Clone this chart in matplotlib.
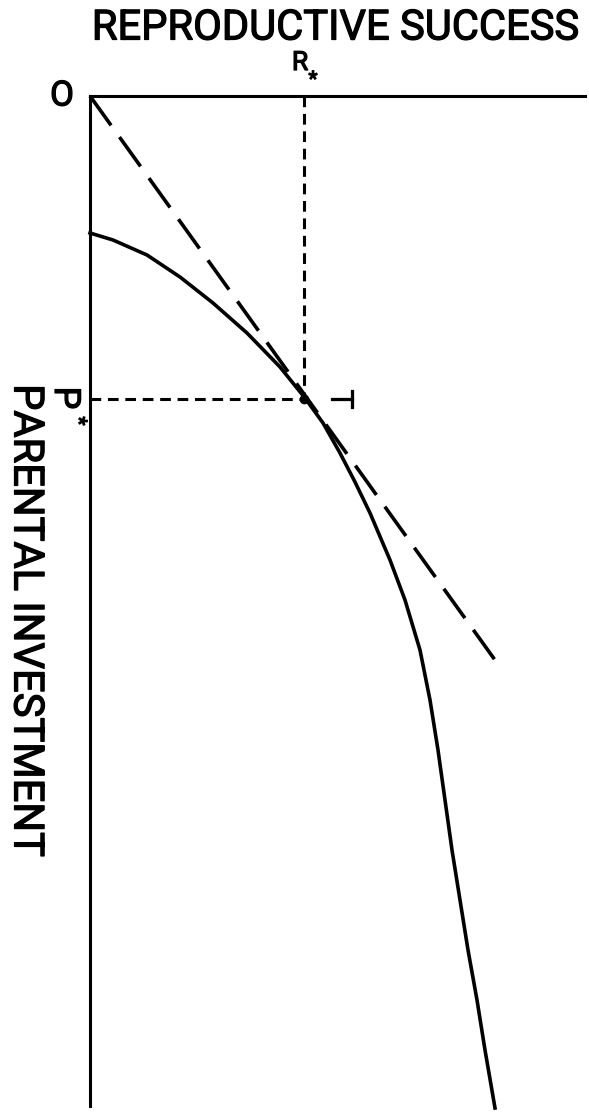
import matplotlib
matplotlib.use("Agg")
import matplotlib.pyplot as plt
import matplotlib.patheffects as pe

plt.rcParams["font.family"] = ["Roboto", "DejaVu Sans"]

# reproductive success (horizontal) vs parental investment (vertical, downward)
R_curve = [0, 0.46, 1.14, 1.8, 2.46, 3.14, 3.8, 4.3, 4.66, 5.0, 5.3, 5.6, 6.0, 6.3, 6.6,
           6.8, 6.96, 7.1, 7.24, 7.4, 7.56, 7.74, 7.9, 8.1]
P_curve = [2.74, 2.88, 3.18, 3.62, 4.14, 4.74, 5.42, 6.04, 6.54, 7.14, 7.72, 8.34, 9.28, 10.08, 11.08,
           12.08, 13.08, 14.08, 15.08, 16.08, 17.08, 18.08, 19.08, 20.24]
R_tan = [0, 8.2]
P_tan = [0, 11.42]
R_star = 4.28
P_star = 6.06

W, H = 589, 1115
fig = plt.figure(figsize=(W / 100, H / 100), dpi=100)
ax = fig.add_axes([90 / W, 1 - 1106 / H, 495 / W, 1010 / H])
ax.set_xlim(0, 9.9)
ax.set_ylim(20.2, 0)
for s in ["right", "bottom"]:
    ax.spines[s].set_visible(False)
for s in ["top", "left"]:
    ax.spines[s].set_linewidth(2.2)
ax.set_xticks([])
ax.set_yticks([])

ax.plot(R_curve, P_curve, color="black", lw=2.6, clip_on=False, solid_joinstyle="round")
ax.plot(R_tan, P_tan, color="black", lw=2.6, dashes=(10, 4), clip_on=False)
ax.plot([R_star, R_star], [0, P_star], color="black", lw=2.2, dashes=(3.5, 2.2))
ax.plot([0, R_star], [P_star, P_star], color="black", lw=2.2, dashes=(3.5, 2.2))
ax.plot([R_star], [P_star], "o", color="black", ms=6)

def px(x, y):
    return x / W, 1 - y / H

thick = [pe.withStroke(linewidth=0.9, foreground="black")]
kw = dict(ha="center", va="center", path_effects=thick)
fig.text(*px(335, 28), "REPRODUCTIVE SUCCESS", fontsize=30, **kw)
fig.text(*px(300, 63), "R", fontsize=19, **kw)
fig.text(*px(313, 80), "*", fontsize=15, **kw)
fig.text(*px(62, 96), "O", fontsize=25, **kw)
fig.text(*px(65, 398), "P", fontsize=26, rotation=-90, **kw)
fig.text(*px(78, 421), "*", fontsize=15, rotation=-90, **kw)
fig.text(*px(26, 620), "PARENTAL INVESTMENT", fontsize=30, rotation=-90, **kw)
fig.text(*px(339, 399), "T", fontsize=23, rotation=-90, **kw)

fig.savefig("out.png", dpi=100)
